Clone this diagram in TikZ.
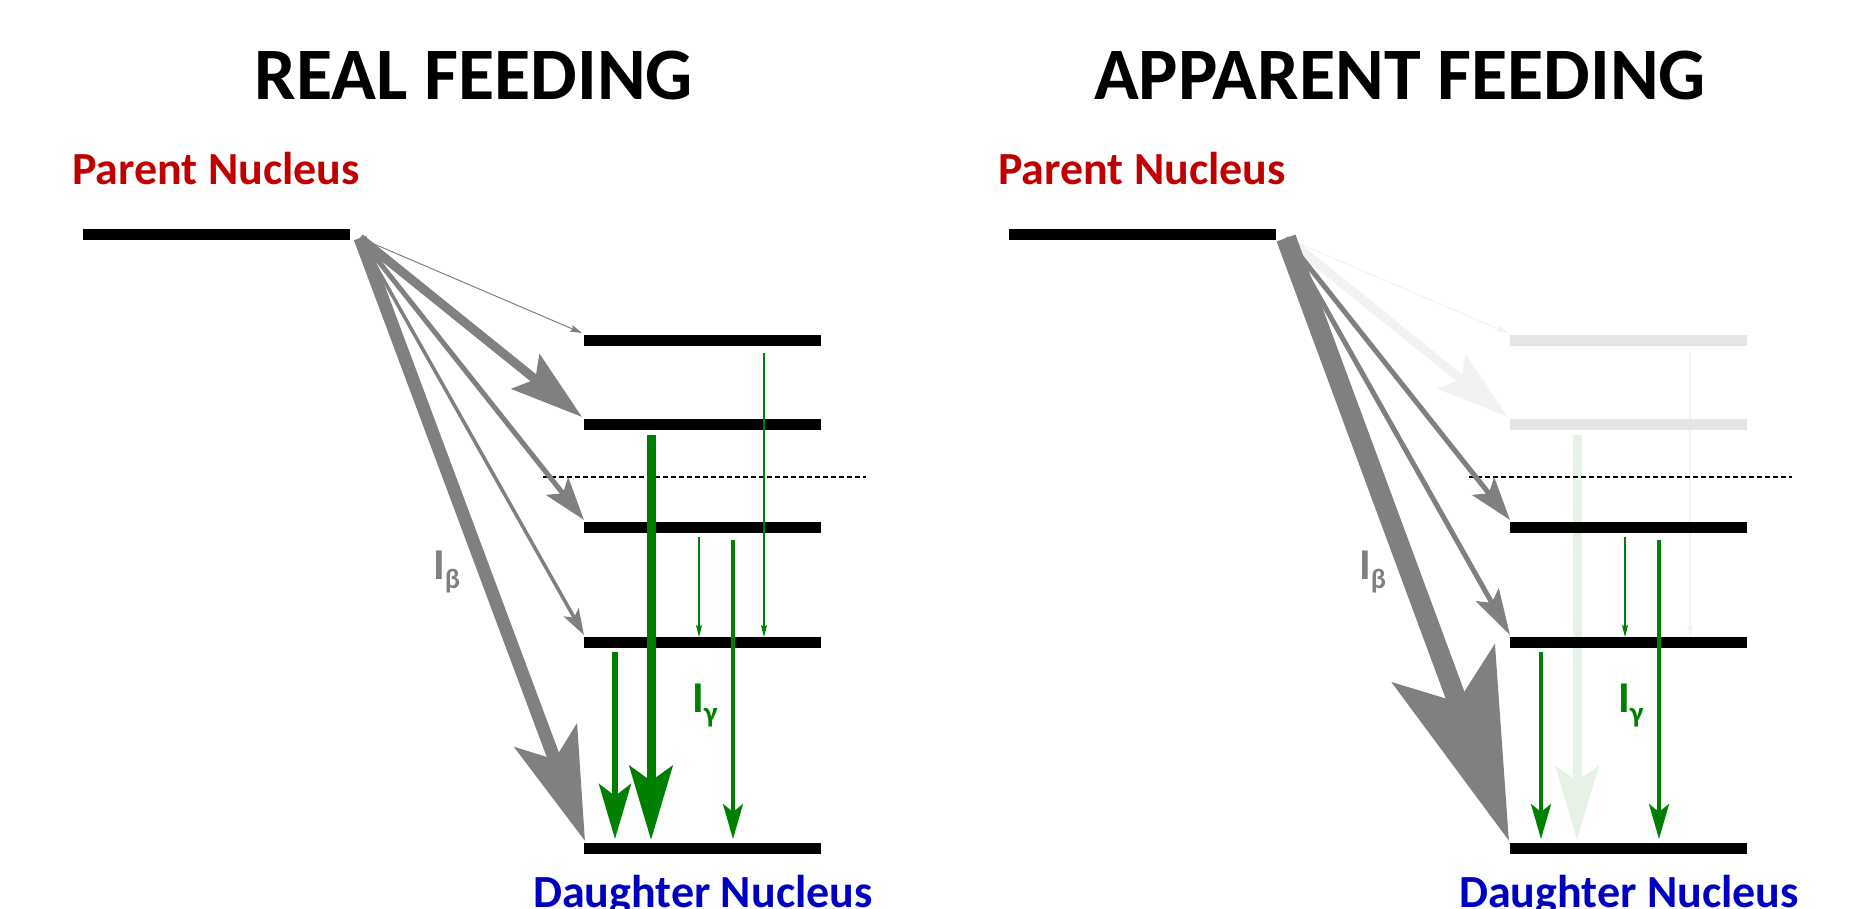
\documentclass[tikz,border=0pt]{standalone}
\usepackage{fontspec}
\setmainfont{Carlito}
\usetikzlibrary{arrows.meta}
\definecolor{pgray}{RGB}{128,128,128}
\definecolor{pgreen}{RGB}{0,128,0}
\definecolor{pred}{RGB}{192,0,0}
\definecolor{pblue}{RGB}{0,0,192}
\begin{document}
\begin{tikzpicture}[x=1pt,y=-1pt,
  level/.style={line width=11pt},
  ba/.style n args={4}{draw=pgray,line width=#1,-{Stealth[length=#2,width=#3,inset=#4]}},
  ga/.style n args={4}{draw=pgreen,line width=#1,-{Stealth[length=#2,width=#3,inset=#4]}},
  title/.style={font=\fontsize{74}{74}\selectfont\bfseries, inner sep=0pt, anchor=base},
  nuc/.style={font=\fontsize{46}{46}\selectfont\bfseries, inner sep=0pt},
  lab/.style={font=\fontsize{44}{44}\selectfont\bfseries, inner sep=0pt, anchor=base west},
  sep/.style={draw=black, line width=1.3pt, dash pattern=on 5pt off 3pt},
  ]
\useasboundingbox (0,0) rectangle (1852,909);

% ================= REAL FEEDING =================
\node[title] (titleL) at (474,100) {REAL FEEDING};
\node[nuc, anchor=base west, text=pred] (parentL) at (72,185) {Parent Nucleus};
\node[nuc, anchor=base, text=pblue] (daughterL) at (703,907) {Daughter Nucleus};

\coordinate (O) at (360,238);
\draw[level] (83,235) coordinate (P0) -- (350,235) coordinate (P1);
\draw[level] (584,340) coordinate (L1) -- (821,340);
\draw[level] (584,424) coordinate (L2) -- (821,424);
\draw[level] (584,527) coordinate (L3) -- (821,527);
\draw[level] (584,642) coordinate (L4) -- (821,642);
\draw[level] (584,848) coordinate (L0) -- (821,848);

\draw[sep] (543,477) coordinate (s0) -- (866,477) coordinate (s1);

\coordinate (t1) at (582,333);
\coordinate (t2) at (582,417);
\coordinate (t3) at (584,520);
\coordinate (t4) at (584,635);
\coordinate (t0) at (585,841);

\draw[ba={1pt}{12pt}{7pt}{2pt}] (O) -- (t1);
\draw[ba={9pt}{72pt}{44pt}{12pt}] (O) -- (t2);
\draw[ba={5pt}{43pt}{28pt}{9pt}] (O) -- (t3);
\draw[ba={3.5pt}{26pt}{17pt}{6pt}] (O) -- (t4);
\draw[ba={13pt}{112pt}{66pt}{25pt}] (O) -- (t0);

\coordinate (g1s) at (764,353); \coordinate (g1e) at (764,637);
\coordinate (g3s) at (699,537); \coordinate (g3e) at (699,637);
\coordinate (g2s) at (651,435); \coordinate (g2e) at (651,840);
\coordinate (g3bs) at (733,540); \coordinate (g3be) at (733,839);
\coordinate (g4s) at (615,652); \coordinate (g4e) at (615,839);

\draw[ga={1.2pt}{12pt}{6pt}{2pt}] (g1s) -- (g1e);
\draw[ga={1.2pt}{12pt}{6pt}{2pt}] (g3s) -- (g3e);
\draw[ga={9pt}{74pt}{43pt}{15pt}] (g2s) -- (g2e);
\draw[ga={3.5pt}{35pt}{20pt}{8pt}] (g3bs) -- (g3be);
\draw[ga={6pt}{55pt}{32pt}{12pt}] (g4s) -- (g4e);

\node[lab, text=pgray] (ibL) at (433,579) {I\raisebox{-9pt}{\fontsize{28}{28}\selectfont β}};
\node[lab, text=pgreen] (igL) at (692,712) {I\raisebox{-10pt}{\fontsize{29}{29}\selectfont γ}};

% ================= APPARENT FEEDING =================
\node[title] (titleR) at (1400,100) {APPARENT FEEDING};
\node[nuc, anchor=base west, text=pred] (parentR) at (998,185) {Parent Nucleus};
\node[nuc, anchor=base, text=pblue] (daughterR) at (1629,907) {Daughter Nucleus};

\coordinate (rO) at (1286,238);
\coordinate (rt1) at (1508,333);
\coordinate (rt2) at (1508,417);
\coordinate (rt3) at (1510,520);
\coordinate (rt4) at (1510,635);
\coordinate (rt0) at (1509,841);

\coordinate (rg1s) at (1690,353); \coordinate (rg1e) at (1690,637);
\coordinate (rg3s) at (1625,537); \coordinate (rg3e) at (1625,637);
\coordinate (rg2s) at (1577,435); \coordinate (rg2e) at (1577,840);
\coordinate (rg3bs) at (1659,540); \coordinate (rg3be) at (1659,839);
\coordinate (rg4s) at (1541,652); \coordinate (rg4e) at (1541,839);

% faded transitions (drawn first, under the levels)
\draw[ba={1pt}{12pt}{7pt}{2pt}, draw=pgray!10] (rO) -- (rt1);
\draw[ba={9pt}{72pt}{44pt}{12pt}, draw=pgray!10] (rO) -- (rt2);
\draw[ga={1.2pt}{12pt}{6pt}{2pt}, draw=pgreen!7] (rg1s) -- (rg1e);
\draw[ga={9pt}{74pt}{43pt}{15pt}, draw=pgreen!10] (rg2s) -- (rg2e);

\draw[level] (1009,235) coordinate (rP0) -- (1276,235) coordinate (rP1);
\draw[level, black!10] (1510,340) coordinate (rL1) -- (1747,340);
\draw[level, black!10] (1510,424) coordinate (rL2) -- (1747,424);
\draw[level] (1510,527) coordinate (rL3) -- (1747,527);
\draw[level] (1510,642) coordinate (rL4) -- (1747,642);
\draw[level] (1510,848) coordinate (rL0) -- (1747,848);

\draw[sep] (1469,477) coordinate (rs0) -- (1792,477) coordinate (rs1);

\draw[ba={5pt}{43pt}{28pt}{9pt}] (rO) -- (rt3);
\draw[ba={5pt}{46pt}{26pt}{9pt}] (rO) -- (rt4);
\draw[ba={20pt}{188pt}{108pt}{40pt}] (rO) -- (rt0);

\draw[ga={1.2pt}{12pt}{6pt}{2pt}] (rg3s) -- (rg3e);
\draw[ga={3.5pt}{35pt}{20pt}{8pt}] (rg3bs) -- (rg3be);
\draw[ga={3.5pt}{35pt}{20pt}{8pt}] (rg4s) -- (rg4e);

\node[lab, text=pgray] (ibR) at (1359,579) {I\raisebox{-9pt}{\fontsize{28}{28}\selectfont β}};
\node[lab, text=pgreen] (igR) at (1618,712) {I\raisebox{-10pt}{\fontsize{29}{29}\selectfont γ}};
\end{tikzpicture}
\end{document}
